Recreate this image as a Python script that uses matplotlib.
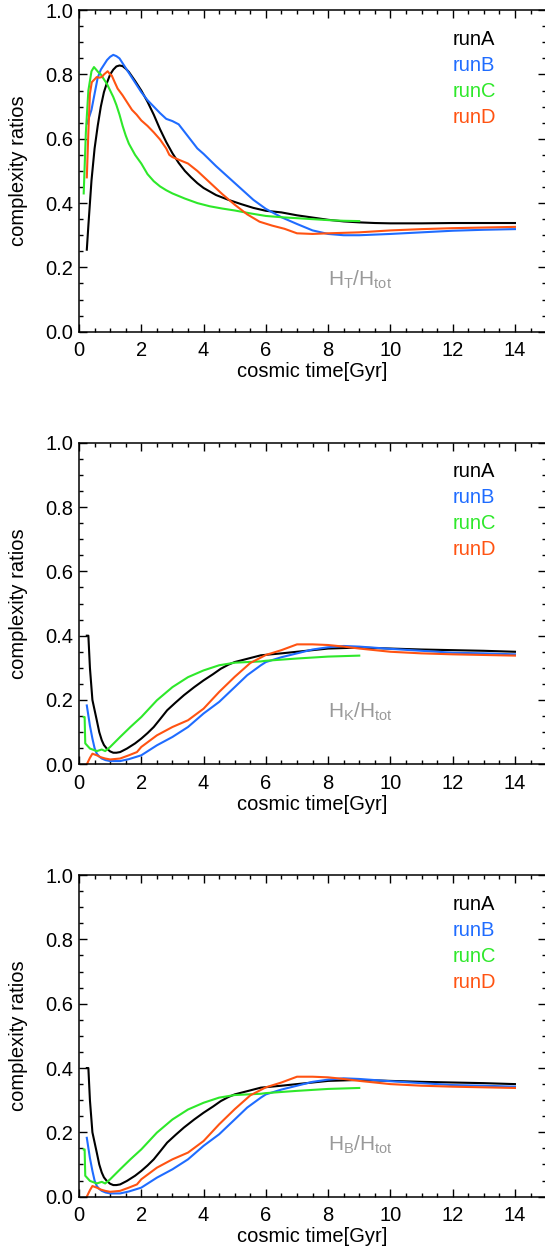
# -*- coding: utf-8 -*-
"""
Complexity ratios (H_T, H_K, H_B over H_tot) vs cosmic time for four runs.
Three stacked panels, IDL-like look (inward ticks on all sides).
"""

import matplotlib
matplotlib.use('Agg')
import matplotlib.pyplot as plt
from matplotlib.ticker import MultipleLocator

plt.rcParams['font.family'] = ['Liberation Sans', 'DejaVu Sans']
plt.rcParams['mathtext.fontset'] = 'custom'
plt.rcParams['mathtext.rm'] = 'Liberation Sans'

# --- data ---
RUNS = ['runA', 'runB', 'runC', 'runD']
RUN_COLORS = ['black', '#1f6cff', '#2ee82a', '#ff5312']

# panel 1: H_T / H_tot
ht_time_A = [0.25, 0.3, 0.4, 0.5, 0.6, 0.7, 0.8, 0.9, 1.0, 1.1, 1.2, 1.3, 1.4, 1.5, 1.6, 1.8,
             2.0, 2.2, 2.4, 2.6, 2.8, 3.0, 3.2, 3.4, 3.6, 3.8, 4.0, 4.4, 4.8, 5.2, 5.6, 6.0,
             6.5, 7.0, 7.5, 8.0, 8.5, 9.0, 9.5, 10.0, 11.0, 12.0, 13.0, 14.0]
ht_runA = [0.255, 0.33, 0.47, 0.57, 0.64, 0.70, 0.745, 0.775, 0.80, 0.815, 0.825, 0.828, 0.826,
           0.818, 0.808, 0.78, 0.75, 0.715, 0.675, 0.63, 0.59, 0.555, 0.525, 0.50, 0.48, 0.462,
           0.447, 0.425, 0.41, 0.397, 0.385, 0.376, 0.371, 0.362, 0.355, 0.348, 0.343, 0.34,
           0.338, 0.337, 0.337, 0.338, 0.338, 0.338]
ht_time_B = ht_time_A
ht_runB = [0.647, 0.66, 0.69, 0.74, 0.79, 0.815, 0.83, 0.845, 0.855, 0.861, 0.857, 0.85, 0.835,
           0.82, 0.805, 0.775, 0.745, 0.72, 0.70, 0.68, 0.662, 0.655, 0.645, 0.62, 0.595, 0.57,
           0.553, 0.515, 0.48, 0.445, 0.41, 0.382, 0.356, 0.335, 0.315, 0.304, 0.300, 0.300,
           0.302, 0.304, 0.309, 0.314, 0.317, 0.319]
ht_time_C = [0.15, 0.22, 0.3, 0.4, 0.48, 0.55, 0.62, 0.7, 0.8, 0.9, 1.0, 1.1, 1.2, 1.3, 1.4, 1.5,
             1.6, 1.8, 2.0, 2.2, 2.4, 2.6, 2.8, 3.0, 3.4, 3.8, 4.2, 4.6, 5.0, 5.5, 6.0, 6.5,
             7.0, 7.5, 8.0, 8.5, 9.0]
ht_runC = [0.43, 0.62, 0.75, 0.81, 0.823, 0.815, 0.807, 0.80, 0.785, 0.77, 0.75, 0.73, 0.705,
           0.675, 0.64, 0.61, 0.585, 0.55, 0.523, 0.49, 0.468, 0.452, 0.44, 0.43, 0.414, 0.40,
           0.39, 0.383, 0.377, 0.368, 0.36, 0.356, 0.353, 0.35, 0.347, 0.345, 0.344]
ht_time_D = [0.25, 0.3, 0.35, 0.41, 0.5, 0.57, 0.65, 0.73, 0.8, 0.92, 1.0, 1.05, 1.15, 1.24, 1.4,
             1.54, 1.7, 1.85, 2.0, 2.2, 2.4, 2.6, 2.8, 2.9, 3.0, 3.2, 3.5, 3.8, 4.0, 4.3, 4.6,
             5.0, 5.4, 5.8, 6.2, 6.6, 7.0, 7.5, 8.0, 9.0, 10.0, 11.0, 12.0, 13.0, 14.0]
ht_runD = [0.48, 0.62, 0.74, 0.776, 0.785, 0.792, 0.79, 0.792, 0.80, 0.81, 0.80, 0.797, 0.775,
           0.756, 0.735, 0.714, 0.69, 0.675, 0.657, 0.64, 0.62, 0.598, 0.57, 0.55, 0.543, 0.535,
           0.523, 0.50, 0.482, 0.455, 0.428, 0.395, 0.365, 0.342, 0.33, 0.32, 0.306, 0.304,
           0.306, 0.309, 0.315, 0.319, 0.322, 0.324, 0.326]

# panel 2: H_K / H_tot
hk_time_A = [0.25, 0.3, 0.35, 0.43, 0.57, 0.65, 0.73, 0.8, 0.89, 1.0, 1.1, 1.2, 1.32, 1.54, 1.8,
             2.0, 2.2, 2.4, 2.6, 2.83, 3.1, 3.37, 3.7, 4.0, 4.3, 4.55, 4.8, 5.0, 5.4, 5.84,
             6.5, 7.0, 7.5, 8.0, 9.0, 10.0, 11.0, 12.0, 13.0, 14.0]
hk_runA = [0.40, 0.40, 0.30, 0.20, 0.137, 0.10, 0.075, 0.06, 0.049, 0.04, 0.036, 0.036, 0.038,
           0.049, 0.065, 0.08, 0.097, 0.116, 0.14, 0.168, 0.192, 0.215, 0.24, 0.261, 0.28,
           0.297, 0.31, 0.318, 0.328, 0.339, 0.345, 0.35, 0.355, 0.36, 0.363, 0.36, 0.357,
           0.355, 0.353, 0.35]
hk_time_B = [0.25, 0.35, 0.43, 0.5, 0.57, 0.65, 0.73, 0.85, 1.0, 1.32, 1.6, 2.0, 2.5, 3.0, 3.5,
             4.0, 4.5, 5.0, 5.4, 5.84, 6.0, 6.5, 7.0, 7.5, 8.0, 8.5, 9.0, 10.0, 11.0, 12.0,
             13.0, 14.0]
hk_runB = [0.183, 0.12, 0.08, 0.05, 0.033, 0.024, 0.018, 0.013, 0.01, 0.01, 0.016, 0.028, 0.059,
           0.085, 0.116, 0.158, 0.194, 0.24, 0.277, 0.308, 0.318, 0.333, 0.345, 0.357, 0.364,
           0.368, 0.366, 0.359, 0.353, 0.347, 0.345, 0.342]
hk_time_C = [0.15, 0.18, 0.2, 0.35, 0.57, 0.73, 0.84, 1.0, 1.32, 1.65, 2.0, 2.5, 3.0, 3.5, 4.0,
             4.5, 5.0, 5.84, 6.0, 7.0, 8.0, 9.0]
hk_runC = [0.147, 0.147, 0.065, 0.049, 0.041, 0.046, 0.041, 0.054, 0.085, 0.116, 0.147, 0.199,
           0.24, 0.271, 0.292, 0.308, 0.316, 0.32, 0.322, 0.329, 0.335, 0.338]
hk_time_D = [0.25, 0.35, 0.43, 0.57, 0.7, 0.84, 1.0, 1.32, 1.6, 1.86, 2.0, 2.5, 3.0, 3.5, 4.0,
             4.5, 5.0, 5.5, 6.0, 6.5, 7.0, 7.5, 8.0, 8.5, 9.0, 10.0, 11.0, 12.0, 13.0, 14.0]
hk_runD = [0.0, 0.02, 0.033, 0.028, 0.022, 0.018, 0.015, 0.018, 0.028, 0.038, 0.054, 0.09, 0.116,
           0.137, 0.173, 0.225, 0.272, 0.315, 0.34, 0.355, 0.373, 0.373, 0.371, 0.366, 0.36,
           0.35, 0.345, 0.342, 0.34, 0.338]

# panel 3: H_B / H_tot (same curves as the K panel in the figure)
hb_time_A, hb_runA = hk_time_A, hk_runA
hb_time_B, hb_runB = hk_time_B, hk_runB
hb_time_C, hb_runC = hk_time_C, hk_runC
hb_time_D, hb_runD = hk_time_D, hk_runD

PANELS = [
    ([ht_time_A, ht_time_B, ht_time_C, ht_time_D], [ht_runA, ht_runB, ht_runC, ht_runD],
     r'H$_\mathrm{T}$/H$_\mathrm{tot}$'),
    ([hk_time_A, hk_time_B, hk_time_C, hk_time_D], [hk_runA, hk_runB, hk_runC, hk_runD],
     r'H$_\mathrm{K}$/H$_\mathrm{tot}$'),
    ([hb_time_A, hb_time_B, hb_time_C, hb_time_D], [hb_runA, hb_runB, hb_runC, hb_runD],
     r'H$_\mathrm{B}$/H$_\mathrm{tot}$'),
]

FS = 14.5

fig = plt.figure(figsize=(5.45, 12.55), dpi=100)
bottoms = [0.7357, 0.391, 0.0465]

for (times, values, label), bottom in zip(PANELS, bottoms):
    ax = fig.add_axes([0.145, bottom, 0.857, 0.2562])
    for t, v, c in zip(times, values, RUN_COLORS):
        ax.plot(t, v, color=c, linewidth=1.5)

    # legend as coloured text
    for i, (name, c) in enumerate(zip(RUNS, RUN_COLORS)):
        ax.text(12.0, 0.91 - i * 0.081, name, color=c, fontsize=FS, ha='left', va='center')

    ax.text(8.0, 0.145, label, color='#999999', fontsize=FS + 0.5, ha='left', va='baseline')

    ax.set_xlim(0, 15)
    ax.set_ylim(0, 1)
    ax.xaxis.set_major_locator(MultipleLocator(2))
    ax.xaxis.set_minor_locator(MultipleLocator(0.5))
    ax.yaxis.set_major_locator(MultipleLocator(0.2))
    ax.yaxis.set_minor_locator(MultipleLocator(0.05))
    ax.yaxis.set_major_formatter(matplotlib.ticker.FormatStrFormatter('%.1f'))
    ax.tick_params(which='both', direction='in', top=True, right=True, width=1.0,
                   labelsize=FS)
    ax.tick_params(which='major', length=5.5)
    ax.tick_params(which='minor', length=2.8)
    ax.tick_params(axis='x', which='major', pad=7)
    ax.tick_params(axis='y', which='major', pad=4)
    for sp in ax.spines.values():
        sp.set_linewidth(1.1)

    ax.set_xlabel('cosmic time[Gyr]', fontsize=FS)
    ax.set_ylabel('complexity ratios', fontsize=FS)
    ax.xaxis.set_label_coords(0.5, -0.095)
    ax.yaxis.set_label_coords(-0.11, 0.5)

plt.savefig('out.png', dpi=100)
